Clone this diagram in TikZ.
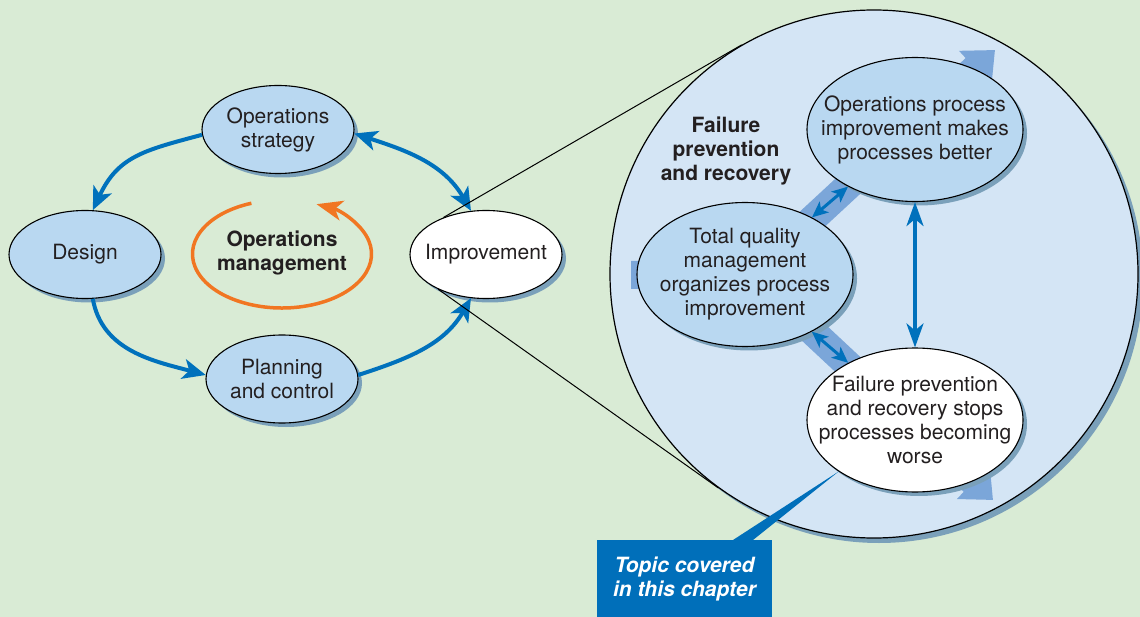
\documentclass[tikz,border=0pt]{standalone}
\usepackage{fontspec}
\setmainfont{TeX Gyre Heros}
\usetikzlibrary{arrows.meta,shapes.geometric,shadows,calc}
\definecolor{bgc}{RGB}{217,235,213}
\definecolor{ellblue}{RGB}{185,216,241}
\definecolor{bigc}{RGB}{212,229,245}
\definecolor{shc}{RGB}{122,160,186}
\definecolor{bluec}{RGB}{0,113,188}
\definecolor{bandc}{RGB}{123,166,217}
\definecolor{orangec}{RGB}{241,118,34}
\definecolor{txtc}{RGB}{35,31,32}
\definecolor{topicc}{RGB}{0,111,186}
\begin{document}
\begin{tikzpicture}[x=1pt,y=1pt,
  ell/.style={ellipse, draw=black, line width=1.1pt, fill=ellblue, inner sep=0pt,
    minimum width=152pt, minimum height=88pt,
    drop shadow={shadow xshift=4pt,shadow yshift=-4pt,fill=shc,opacity=1}},
  bell/.style={ell, minimum width=216pt, minimum height=144pt},
  txt/.style={align=center, inner sep=0pt, text=txtc, font=\fontsize{21}{24}\selectfont},
  btxt/.style={txt, font=\fontsize{21}{24}\selectfont\bfseries},
  conn/.style={draw=bluec, line width=4pt, >={Stealth[length=23pt,width=20pt,inset=6pt]}},
  iconn/.style={draw=bluec, line width=3.5pt, >={Stealth[length=24pt,width=17pt,inset=7pt]}},
  dconn/.style={draw=bluec, line width=3pt, >={Stealth[length=16pt,width=14pt,inset=4pt]}},
  band/.style={draw=bandc, line width=28pt, -{Triangle[length=27pt,width=46pt]}},
  orarc/.style={draw=orangec, line width=3.5pt, -{Stealth[length=26pt,width=20pt,inset=7pt]}},
  thinline/.style={draw=black, line width=1pt},
]
\useasboundingbox (0,0) rectangle (1140,-617);
\fill[bgc] (0,0) rectangle (1140,-617);

% big circle
\node[circle, draw=black, line width=1.2pt, fill=bigc, minimum size=528pt, inner sep=0pt,
  drop shadow={shadow xshift=5pt,shadow yshift=-5pt,fill=shc,opacity=1}] (big) at (874,-274) {};

% bands
\coordinate (bs) at (631,-275);
\coordinate (bj) at (752,-275);
\coordinate (bt1) at (995,-50);
\coordinate (bt2) at (993,-500);
\draw[band] (bs) -- (bj) -- (bt1);
\draw[band] (bj) -- (bt2);

% left cycle
\node[ell] (os) at (278,-129.5) {};
\node[txt] (ost) at (os) {Operations\\strategy};
\node[ell] (design) at (85,-254.5) {};
\node[txt] (designt) at (design) {Design};
\node[ell, fill=white] (imp) at (486,-254.5) {};
\node[txt] (impt) at (imp) {Improvement};
\node[ell] (plan) at (282,-379) {};
\node[txt] (plant) at (plan) {Planning\\and control};

\node[btxt] (om) at (282,-253) {Operations\\management};
\coordinate (oc) at (282,-254);
\draw[orarc] (oc) ++(110:89.5 and 54) arc[start angle=110,end angle=427.3,x radius=89.5,y radius=54];

\draw[conn,->] (os.184) to[out=195,in=65,looseness=1.15] (design.80);
\draw[conn,<->] (os.-3) to[out=-18,in=120] (imp.109);
\draw[conn,->] (design.-80) to[out=-80,in=165] (plan.177);
\draw[conn,->] (plan.3) to[out=18,in=-120] (imp.-109);

% inner ellipses
\node[bell] (ops) at (915,-129.5) {};
\node[txt] (opst) at (ops) {Operations process\\improvement makes\\processes better};
\node[bell] (tqm) at (745,-274.5) {};
\node[txt] (tqmt) at (tqm) {Total quality\\management\\organizes process\\improvement};
\node[bell, fill=white] (fail) at (915,-420) {};
\node[txt] (failt) at (fail) {Failure prevention\\and recovery stops\\processes becoming\\worse};

\node[btxt] (fpr) at (726,-151) {Failure\\prevention\\and recovery};

\draw[iconn,<->] (ops) -- (fail);
\draw[dconn,<->] (tqm) -- (ops);
\draw[dconn,<->] (tqm) -- (fail);

% tangent lines
\draw[thinline] (imp.139) -- (big.120);
\draw[thinline] (imp.216) -- (big.234.7);

% topic box
\node[fill=topicc, minimum width=175pt, minimum height=77pt, anchor=north, inner sep=0pt,
  text=white, align=center, font=\fontsize{21}{24}\selectfont\bfseries\itshape] (topic) at (684.5,-540) {Topic covered\\in this chapter};
\coordinate (pa) at ($(topic.north)+(48.5,0)$);
\coordinate (pb) at ($(topic.north)+(68.5,0)$);
\fill[topicc] (pa) -- (fail.214) -- (pb) -- cycle;
\end{tikzpicture}
\end{document}
